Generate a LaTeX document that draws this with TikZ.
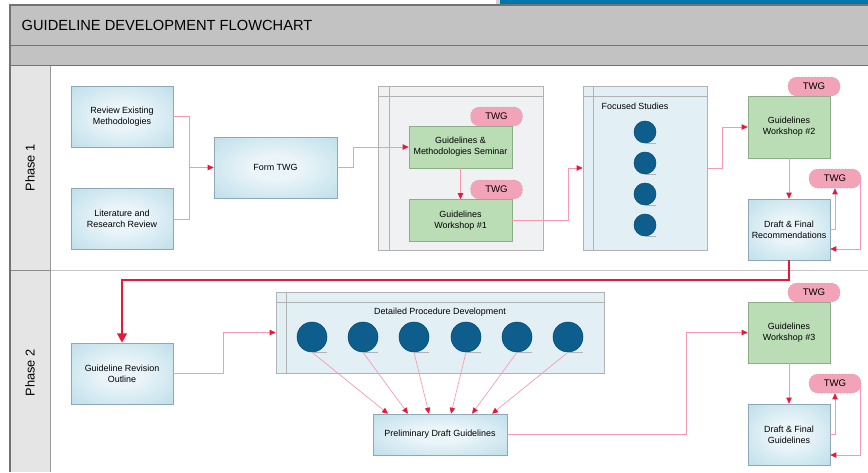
\documentclass[tikz,border=0pt]{standalone}
\usepackage{fontspec}
\setmainfont{Liberation Sans}
\usetikzlibrary{arrows.meta}
\definecolor{procin}{HTML}{EAF5F9}
\definecolor{procout}{HTML}{A6D2E2}
\definecolor{procedge}{HTML}{8EA9B5}
\definecolor{wsfill}{HTML}{BADDB6}
\definecolor{wsedge}{HTML}{8CAD88}
\definecolor{twgfill}{HTML}{F2A3B8}
\definecolor{linkpink}{HTML}{F59AB2}
\definecolor{tipred}{HTML}{E8183C}
\definecolor{studyblue}{HTML}{0D5E8D}
\definecolor{bandgray}{HTML}{C2C2C2}
\definecolor{lanegray}{HTML}{E5E5E5}
\definecolor{headblue}{HTML}{0077AA}
\definecolor{poolgray}{HTML}{F0F1F3}
\definecolor{poolblue}{HTML}{E2F0F6}
\pgfdeclareradialshading{procshade}{\pgfpoint{0bp}{0bp}}{color(0bp)=(procin); color(10bp)=(procin); color(50bp)=(procout)}
\begin{document}
\begin{tikzpicture}[x=0.75pt,y=-0.75pt,font=\fontsize{6.7}{8}\selectfont]
    \tikzset{proc/.style = {shape = rectangle,draw=procedge,shading=procshade,align=center,inner sep=1pt,minimum width=76.5pt,minimum height=45.75pt},
             ws/.style = {shape = rectangle,draw=wsedge,fill=wsfill,align=center,inner sep=1pt},
             twg/.style = {shape = rectangle,rounded corners=6.5pt,draw=gray!70,dotted,fill=twgfill,minimum width=39pt,minimum height=14.25pt,inner sep=0pt,font=\fontsize{7.2}{8}\selectfont},
             pool/.style = {shape = rectangle,draw=gray!60,inner sep=0pt},
             study/.style = {shape = circle,draw=studyblue!80!black,fill=studyblue,inner sep=0pt},
             link/.style = {draw=linkpink,line width=.5pt,-{Triangle[length=4.5pt,width=4pt,color=tipred]}},
             wire/.style = {draw=linkpink,line width=.5pt},
             mainlink/.style = {draw=tipred,line width=1.7pt,-{Triangle[length=7pt,width=7pt,color=tipred]}}}
    \useasboundingbox (0,0) rectangle (868,472);
    \fill[white] (0,0) rectangle (868,472);
    \fill[headblue] (500,0) rectangle (868,5);
    \fill[gray!35] (496,0) rectangle (500,5);
    \fill[bandgray] (10,5) rectangle (868,65);
    \fill[lanegray] (10,65) rectangle (50,472);
    \draw[gray!45] (50,270.5) -- (868,270.5);
    \draw[gray!90] (10,270.5) -- (50,270.5);
    \draw[gray!80] (50,65) -- (50,472);
    \draw[gray!110,line width=.8pt] (10,472) -- (10,5) -- (868,5);
    \draw[gray!110,line width=.6pt] (10,45) -- (868,45);
    \draw[gray!110,line width=.6pt] (10,65) -- (868,65);
    \node[anchor=west,font=\fontsize{11}{13}\selectfont] (title) at (17,25) {GUIDELINE DEVELOPMENT FLOWCHART};
    \node[rotate=90,font=\fontsize{9.6}{11}\selectfont] (phaseA) at (30,168) {Phase 1};
    \node[rotate=90,font=\fontsize{9.6}{11}\selectfont] (phaseB) at (30,373) {Phase 2};

    \node[pool,fill=poolgray,minimum width=123.75pt,minimum height=123pt] (semPool) at (460.5,168) {};
    \draw[gray!60] (378,96) -- (543,96) (389,86) -- (389,250);
    \node[pool,fill=poolblue,minimum width=93pt,minimum height=123pt] (focPool) at (645,168) {};
    \draw[gray!60] (583,96) -- (707,96) (593,86) -- (593,250);
    \node[anchor=west] (focTitle) at (597,106) {Focused Studies};
    \node[pool,fill=poolblue,minimum width=246pt,minimum height=60.75pt] (detPool) at (440,332.5) {};
    \draw[gray!60] (276,302) -- (604,302) (286,292) -- (286,373);
    \node (detTitle) at (440,312) {Detailed Procedure Development};

    \node[proc] (rev) at (122,116.5) {Review Existing\\Methodologies};
    \node[proc] (lit) at (122,219) {Literature and\\Research Review};
    \node[proc,minimum width=92.25pt] (form) at (275.5,167.5) {Form TWG};
    \node[ws,minimum width=77.25pt,minimum height=31.5pt] (sem) at (460.5,147) {Guidelines \&\\Methodologies Seminar};
    \node[ws,minimum width=77.25pt,minimum height=31.5pt] (wsA) at (460.5,220.5) {Guidelines\\Workshop \#1};
    \node[twg] (twgSem) at (496.5,116.5) {TWG};
    \node[twg] (twgA) at (496.5,189.5) {TWG};
    \foreach \y [count=\i] in {132,163,194,225}
        {\node[study,minimum size=16.5pt] (fs\i) at (645,\y) {};
         \draw[gray!60] (fs\i.south) -- (fs\i.south -| fs\i.east);}
    \node[ws,minimum width=61.5pt,minimum height=46.5pt] (wsB) at (789,127) {Guidelines\\Workshop \#2};
    \node[twg] (twgB) at (814,86.5) {TWG};
    \node[proc,minimum width=61.5pt] (draftA) at (789,229.5) {Draft \& Final\\Recommendations};
    \node[twg] (twgC) at (835,178.5) {TWG};

    \node[proc] (outline) at (122,373.5) {Guideline Revision\\Outline};
    \foreach \x [count=\i] in {312,363,414,466,517,568}
        {\node[study,minimum size=22.5pt] (dp\i) at (\x,337) {};
         \draw[gray!60] (dp\i.south) -- (dp\i.south -| dp\i.east);}
    \node[proc,minimum width=100.5pt,minimum height=30.75pt] (prelim) at (440,434.5) {Preliminary Draft Guidelines};
    \node[ws,minimum width=61.5pt,minimum height=45.75pt] (wsC) at (789,332.5) {Guidelines\\Workshop \#3};
    \node[twg] (twgD) at (814,292.5) {TWG};
    \node[proc,minimum width=61.5pt] (draftB) at (789,434.5) {Draft \& Final\\Guidelines};
    \node[twg] (twgE) at (835,383.5) {TWG};

    \coordinate (join) at (189,167.5);
    \draw[wire] (rev.east) -| (join);
    \draw[wire] (lit.east) -| (join);
    \draw[link] (join) -- (form.west);
    \draw[link] (form.east) -- ++(16,0) |- (sem.west);
    \draw[link] (sem.south) -- (wsA.north);
    \draw[link] (wsA.east) -- ++(56,0) |- (focPool.west);
    \draw[link] (focPool.east) -- ++(15,0) |- (wsB.west);
    \draw[link] (wsB.south) -- (draftA.north);
    \draw[link] (draftA.east) -| (twgC.south);
    \draw[link] ([xshift=-.6pt]twgC.east) |- ([yshift=-14.6pt]draftA.east);
    \draw[mainlink] (draftA.south) -- ++(0,20) -| (outline.north);
    \draw[link] (outline.east) -- ++(50,0) |- (detPool.west);
    \foreach \i/\dx in {1/-52,2/-32,3/-11,4/11,5/32,6/52}
        \draw[link] (dp\i.south) -- ([xshift=\dx*0.75pt]prelim.north);
    \draw[link] (prelim.east) -- ++(179,0) |- (wsC.west);
    \draw[link] (wsC.south) -- (draftB.north);
    \draw[link] (draftB.east) -| (twgE.south);
    \draw[link] ([xshift=-.6pt]twgE.east) |- ([yshift=-15.4pt]draftB.east);
\end{tikzpicture}
\end{document}
